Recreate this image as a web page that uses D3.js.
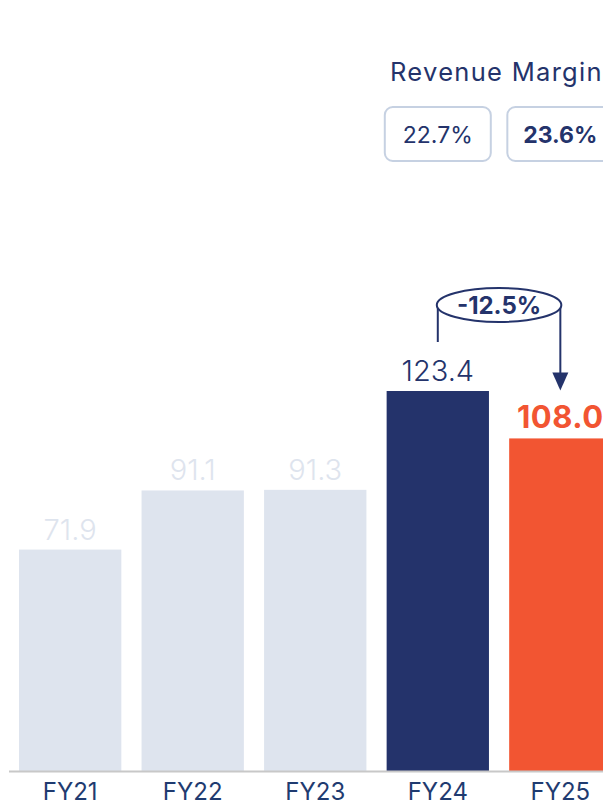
<!DOCTYPE html>
<html><head><meta charset="utf-8">
<script src="https://cdn.jsdelivr.net/npm/d3@7"></script>
<style>html,body{margin:0;padding:0;background:#fff;overflow:hidden}</style>
</head><body>
<svg id="c" width="603" height="806"></svg>
<script>
const categories = ["FY21","FY22","FY23","FY24","FY25"];
const revenue = [71.9, 91.1, 91.3, 123.4, 108.0];
const marginYears = ["FY24","FY25"];
const margins = ["22.7%","23.6%"];
const changeLabel = "-12.5%";

const font = "Inter, 'Open Sans', sans-serif";
const light = "#DEE4EE", navy = "#24336B", orange = "#F25532", axisText = "#1F3B70";
const svg = d3.select("#c");

const x = d3.scaleBand().domain(categories).range([19, 611.5]).paddingInner(0.165).paddingOuter(0);
const y = d3.scaleLinear().domain([0, 123.4]).range([771, 391]);

const color = (d,i) => i === 3 ? navy : (i === 4 ? orange : light);

svg.append("g").selectAll("rect").data(revenue).join("rect")
  .attr("x",(d,i)=>x(categories[i])).attr("width",x.bandwidth())
  .attr("y",d=>y(d)).attr("height",d=>y(0)-y(d)).attr("fill",color);

svg.append("g").selectAll("text").data(revenue).join("text")
  .attr("x",(d,i)=>x(categories[i])+x.bandwidth()/2)
  .attr("y",d=>y(d)-10)
  .attr("text-anchor","middle")
  .attr("font-family",font).attr("font-size",(d,i)=>i===4?31:29)
  .attr("font-weight",(d,i)=>i===4?700:300)
  .attr("letter-spacing",(d,i)=>i===4?"0.5px":"0px")
  .attr("fill",color)
  .text(d=>d.toFixed(1));

// axis
const ax = svg.append("g").attr("transform",`translate(0,${y(0)})`)
  .call(d3.axisBottom(x).tickSize(0).tickPadding(0));
ax.select(".domain").attr("d","M9,0.5H603").attr("stroke","#C8C8C8").attr("stroke-width",2);
ax.selectAll("text").attr("font-family",font).attr("font-size",24).attr("fill",axisText)
  .attr("dy",null).attr("y",29);

// Revenue margin
svg.append("text").attr("x",390).attr("y",81).attr("font-family",font).attr("font-size",25.5)
  .attr("letter-spacing","1.3px").attr("fill",navy).text("Revenue Margin");
const mg = svg.append("g").selectAll("g").data(margins).join("g")
  .attr("transform",(d,i)=>`translate(${x(marginYears[i])+x.bandwidth()/2},134)`);
mg.append("rect").attr("x",-53).attr("y",-27).attr("width",106).attr("height",54).attr("rx",8)
  .attr("fill","#fff").attr("stroke","#C6D1E2").attr("stroke-width",2);
mg.append("text").attr("text-anchor","middle").attr("y",9).attr("font-family",font).attr("font-size",23)
  .attr("font-weight",(d,i)=>i===1?700:400).attr("fill",navy).text(d=>d);

// change annotation
const cx1 = x("FY24")+x.bandwidth()/2, cx2 = x("FY25")+x.bandwidth()/2;
const ey = 305, mid = (cx1+cx2)/2;
const an = svg.append("g").attr("stroke",navy).attr("stroke-width",2).attr("fill","none");
an.append("line").attr("x1",cx1).attr("x2",cx1).attr("y1",ey).attr("y2",y(123.4)-49);
an.append("line").attr("x1",cx2).attr("x2",cx2).attr("y1",ey).attr("y2",y(108.0)-62);
an.append("ellipse").attr("cx",mid).attr("cy",ey).attr("rx",(cx2-cx1)/2+1).attr("ry",17).attr("fill","#fff");
svg.append("path").attr("d",`M${cx2-8},${y(108.0)-66}L${cx2+8},${y(108.0)-66}L${cx2},${y(108.0)-48}Z`).attr("fill",navy);
svg.append("text").attr("x",mid).attr("y",ey+9).attr("text-anchor","middle").attr("font-family",font)
  .attr("font-size",24).attr("font-weight",700).attr("fill",navy).text(changeLabel);
</script>
</body></html>
